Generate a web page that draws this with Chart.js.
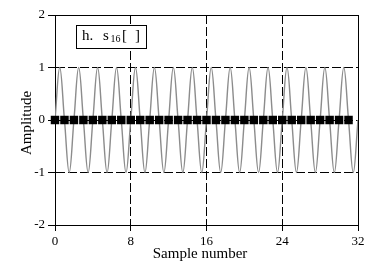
<!DOCTYPE html>
<html>
<head>
<meta charset="utf-8">
<script src="https://cdn.jsdelivr.net/npm/chart.js@4.4.0/dist/chart.umd.min.js"></script>
<style>
  html, body { margin: 0; padding: 0; background: #fff; }
</style>
</head>
<body>
<canvas id="myChart" width="369" height="268"></canvas>
<script>
// sample points (all at zero) and the gray continuous wave
var sampleX = [0,1,2,3,4,5,6,7,8,9,10,11,12,13,14,15,16,17,18,19,20,21,22,23,24,25,26,27,28,29,30,31];
var sampleY = [0,0,0,0,0,0,0,0,0,0,0,0,0,0,0,0,0,0,0,0,0,0,0,0,0,0,0,0,0,0,0,0];

var waveX = [0,0.5,1,1.5,2,2.5,3,3.5,4,4.5,5,5.5,6,6.5,7,7.5,8,8.5,9,9.5,10,10.5,11,11.5,12,12.5,13,13.5,14,14.5,15,15.5,
             16,16.5,17,17.5,18,18.5,19,19.5,20,20.5,21,21.5,22,22.5,23,23.5,24,24.5,25,25.5,26,26.5,27,27.5,28,28.5,29,29.5,30,30.5,31,31.5,32];
var waveY = [0,1,0,-1,0,1,0,-1,0,1,0,-1,0,1,0,-1,0,1,0,-1,0,1,0,-1,0,1,0,-1,0,1,0,-1,
             0,1,0,-1,0,1,0,-1,0,1,0,-1,0,1,0,-1,0,1,0,-1,0,1,0,-1,0,1,0,-1,0,1,0,-1,0];

var xTicks = [0, 8, 16, 24, 32];
var yTicks = [-2, -1, 0, 1, 2];

var serif = "'Liberation Serif', 'DejaVu Serif', serif";

var samplePts = sampleX.map(function (x, i) { return { x: x, y: sampleY[i] }; });
var wavePts = waveX.map(function (x, i) { return { x: x, y: waveY[i] }; });

var overlay = {
  id: "overlay",
  afterDraw: function (chart) {
    var ctx = chart.ctx;
    ctx.save();
    // label box
    ctx.fillStyle = "#fff";
    ctx.fillRect(76, 25, 71, 24);
    ctx.strokeStyle = "#000";
    ctx.lineWidth = 1;
    ctx.strokeRect(76.5, 25.5, 70, 23);
    ctx.fillStyle = "#000";
    ctx.textBaseline = "alphabetic";
    ctx.textAlign = "left";
    ctx.font = "15px " + serif;
    ctx.fillText("h.", 82, 40);
    ctx.fillText("s", 103, 40);
    ctx.font = "10px " + serif;
    ctx.fillText("16", 110.5, 42);
    ctx.font = "15px " + serif;
    ctx.fillText("[", 122, 40);
    ctx.fillText("]", 135, 40);
    // axis titles
    ctx.font = "15px " + serif;
    ctx.textAlign = "center";
    ctx.textBaseline = "middle";
    ctx.save();
    ctx.translate(27, 123);
    ctx.rotate(-Math.PI / 2);
    ctx.fillText("Amplitude", 0, 0);
    ctx.restore();
    ctx.textBaseline = "alphabetic";
    ctx.fillText("Sample number", 200, 258);
    ctx.restore();
  }
};

new Chart("myChart", {
  type: "scatter",
  data: {
    datasets: [{
      data: samplePts,
      showLine: false,
      pointStyle: "rect",
      pointRadius: 6,
      pointHoverRadius: 6,
      backgroundColor: "#000",
      borderWidth: 0,
      clip: false,
      order: 0
    }, {
      data: wavePts,
      showLine: true,
      borderColor: "#8c8c8c",
      borderWidth: 1.4,
      pointRadius: 0,
      tension: 0.4,
      order: 1
    }]
  },
  options: {
    responsive: false,
    animation: false,
    devicePixelRatio: 1,
    layout: { padding: { top: 15, right: 11, left: 0, bottom: 0 } },
    plugins: {
      legend: { display: false },
      tooltip: { enabled: false }
    },
    scales: {
      x: {
        type: "linear",
        min: 0,
        max: 32,
        afterBuildTicks: function (s) { s.ticks = xTicks.map(function (v) { return { value: v }; }); },
        afterFit: function (s) { s.height = 43; },
        ticks: { color: "#000", font: { family: serif, size: 13 }, padding: 3, maxRotation: 0 },
        grid: { color: "#000", lineWidth: 1, tickLength: 6, tickColor: "#000" },
        border: {
          display: true, color: "#000", width: 1,
          dash: function (c) { return (c.tick && (c.tick.value === 0 || c.tick.value === 32)) ? [] : [9, 3]; }
        }
      },
      y: {
        type: "linear",
        min: -2,
        max: 2,
        afterBuildTicks: function (s) { s.ticks = yTicks.map(function (v) { return { value: v }; }); },
        afterFit: function (s) { s.width = 55; },
        ticks: { color: "#000", font: { family: serif, size: 13 }, padding: 3 },
        grid: { color: "#000", lineWidth: 1, tickLength: 7, tickColor: "#000" },
        border: {
          display: true, color: "#000", width: 1,
          dash: function (c) { return (c.tick && (c.tick.value === -2 || c.tick.value === 2)) ? [] : [9, 3]; }
        }
      }
    }
  },
  plugins: [overlay]
});
</script>
</body>
</html>
